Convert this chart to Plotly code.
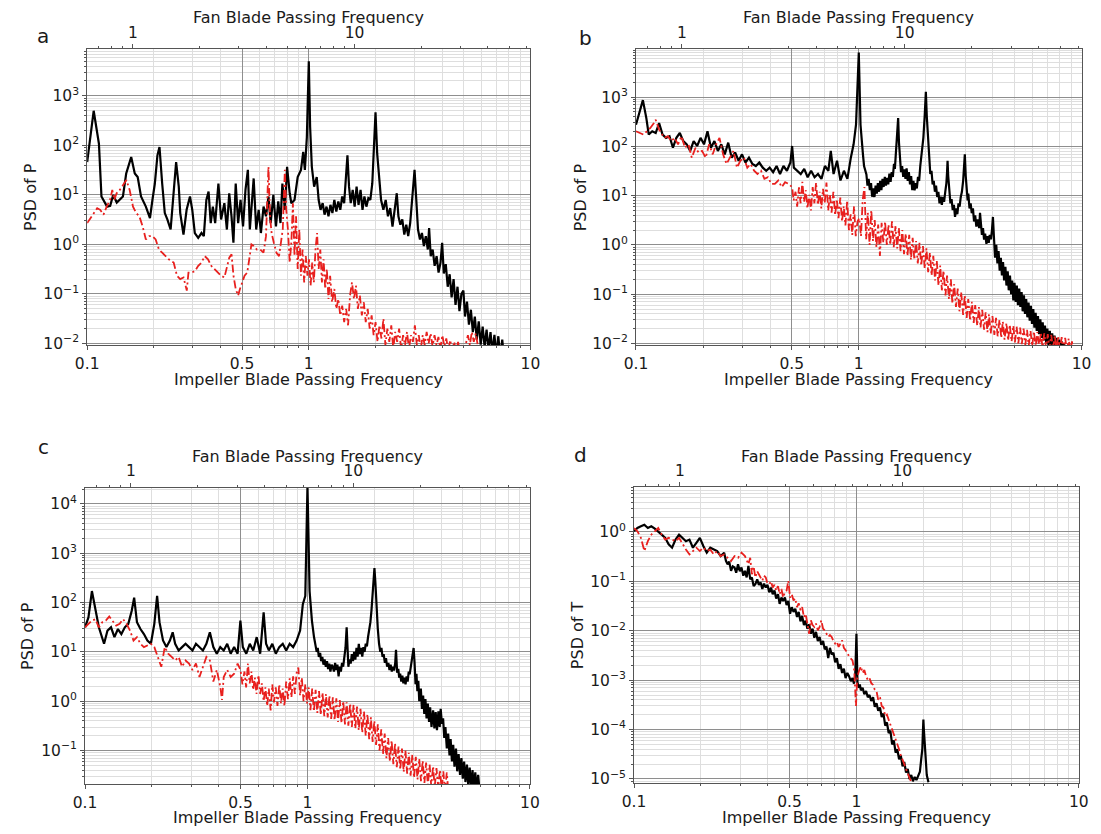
import math
import plotly.graph_objects as go

# ---------------- data (frequency in impeller BPF units, PSD) ----------------
A_BLACK = [(0.100,46),(0.107,500),(0.113,108),(0.116,9.3),(0.123,5.8),(0.127,6.0),(0.131,10),(0.136,7.0),(0.145,9.3),(0.150,27),(0.158,58),(0.164,27),(0.169,23),(0.175,9.3),(0.184,5.8),(0.192,3.4),(0.197,7.9),(0.202,17),(0.2075,63),(0.212,93),(0.218,17),(0.224,4.3),(0.230,3.2),(0.238,2.0),(0.244,7.9),(0.252,46),(0.259,14.7),(0.263,4.3),(0.272,1.58),(0.281,5.0),(0.291,9.3),(0.298,5.0),(0.306,1.7),(0.317,1.36),(0.328,1.7),(0.336,1.47),(0.345,7.9),(0.353,11.7),(0.361,2.7),(0.369,5.8),(0.378,2.7),(0.391,17),(0.402,3.2),(0.416,6.8),(0.427,2.0),(0.4375,10.8),(0.448,3.7),(0.457,1.08),(0.468,17),(0.480,2.7),(0.492,7.9),(0.505,2.3),(0.518,12.6),(0.531,32),(0.542,2.0),(0.555,7.9),(0.564,21.5),(0.579,2.0),(0.594,5.0),(0.608,1.7),(0.625,5.8),(0.641,3.7),(0.658,9.3),(0.673,2.7),(0.692,10),(0.711,2.3),(0.728,7.4),(0.745,2.7),(0.760,17),(0.780,5.0),(0.798,37),(0.820,10.8),(0.834,6.8),(0.862,7.9),(0.891,23),(0.922,32),(0.944,74),(0.960,32),(0.980,147),(1.0,5000),(1.014,233),(1.032,37),(1.057,14.7),(1.086,23),(1.108,7.9),(1.130,5.0),(1.155,6.8),(1.178,4.0),(1.202,5.8),(1.227,3.7),(1.252,6.3),(1.278,4.3),(1.304,7.9),(1.331,4.6),(1.359,7.4),(1.387,5.0),(1.415,9.3),(1.444,6.8),(1.469,17),(1.494,63),(1.519,14.7),(1.546,6.8),(1.578,12.6),(1.610,5.8),(1.643,14.7),(1.677,6.3),(1.712,12.6),(1.747,5.0),(1.782,9.3),(1.819,5.8),(1.857,8.6),(1.895,7.9),(1.934,17),(1.967,68),(2.0,464),(2.035,68),(2.069,23),(2.119,7.9),(2.170,5.0),(2.223,7.9),(2.276,3.7),(2.330,5.4),(2.386,2.3),(2.435,5.0),(2.494,10.8),(2.537,3.7),(2.589,2.5),(2.642,3.2),(2.697,1.58),(2.753,2.5),(2.809,1.47),(2.867,2.7),(2.925,6.8),(2.975,20),(3.0,32),(3.047,7.9),(3.110,2.0),(3.174,1.26),(3.239,1.7),(3.306,0.93),(3.373,1.47),(3.443,0.79),(3.490,2.15),(3.549,0.58),(3.622,0.79),(3.697,0.37),(3.773,0.58),(3.850,0.27),(3.929,0.43),(3.996,1.08),(4.065,0.26),(4.149,0.4),(4.235,0.14),(4.321,0.25),(4.410,0.085),(4.501,0.2),(4.593,0.06),(4.688,0.14),(4.784,0.045),(4.882,0.1),(4.983,0.117),(5.068,0.035),(5.172,0.07),(5.279,0.024),(5.387,0.048),(5.498,0.017),(5.612,0.035),(5.727,0.012),(5.845,0.028),(5.966,0.0095),(6.088,0.022),(6.213,0.0085),(6.341,0.019),(6.471,0.0075),(6.604,0.017),(6.740,0.0065),(6.879,0.015),(7.020,0.0058),(7.165,0.014),(7.311,0.0052),(7.462,0.012),(7.6,0.005)]

A_RED = [(0.1,2.7),(0.107,4.3),(0.111,5.4),(0.1145,5.0),(0.1185,4.0),(0.1225,5.8),(0.1268,7.9),(0.1298,12.6),(0.1325,7.9),(0.1358,10.8),(0.1403,12.6),(0.1452,15.8),(0.1503,20),(0.1555,12.6),(0.161,5.8),(0.1663,4.3),(0.172,3.7),(0.178,2.3),(0.184,1.26),(0.1906,1.47),(0.197,1.47),(0.2037,1.26),(0.2108,0.79),(0.218,0.68),(0.2256,0.58),(0.2334,0.50),(0.2456,0.43),(0.2543,0.233),(0.2629,0.20),(0.2721,0.215),(0.2815,0.117),(0.2864,0.27),(0.2962,0.27),(0.3066,0.29),(0.317,0.37),(0.328,0.43),(0.3393,0.58),(0.351,0.50),(0.363,0.37),(0.3757,0.32),(0.3886,0.27),(0.402,0.233),(0.416,0.215),(0.4303,0.37),(0.4377,0.54),(0.4482,0.63),(0.4573,0.233),(0.468,0.126),(0.4797,0.093),(0.489,0.126),(0.501,0.171),(0.513,0.233),(0.5276,0.27),(0.5418,0.58),(0.551,1.0),(0.5636,0.93),(0.583,0.79),(0.6036,0.79),(0.6246,0.68),(0.641,1.47),(0.6495,10.8),(0.6577,37),(0.668,3.7),(0.6796,1.7),(0.6954,1.08),(0.7145,0.68),(0.734,0.58),(0.751,1.08),(0.763,2.0),(0.7797,32),(0.791,5.0),(0.805,2.0),(0.82,0.43),(0.834,1.08),(0.848,6.8),(0.862,0.58),(0.876,3.7),(0.891,0.32),(0.906,2.0),(0.922,0.233),(0.937,0.79),(0.953,0.171),(0.969,0.58),(0.986,0.233),(1.002,0.50),(1.019,0.147),(1.036,0.43),(1.054,0.171),(1.072,0.79),(1.090,1.7),(1.108,0.32),(1.127,0.79),(1.146,0.171),(1.166,0.50),(1.186,0.126),(1.206,0.32),(1.227,0.079),(1.248,0.233),(1.274,0.068),(1.304,0.126),(1.331,0.050),(1.359,0.079),(1.387,0.037),(1.415,0.058),(1.444,0.027),(1.474,0.050),(1.504,0.0233),(1.535,0.093),(1.566,0.171),(1.599,0.079),(1.632,0.147),(1.665,0.050),(1.700,0.093),(1.735,0.037),(1.771,0.068),(1.807,0.027),(1.844,0.050),(1.882,0.020),(1.921,0.037),(1.961,0.0147),(2.001,0.027),(2.042,0.0108),(2.084,0.0233),(2.127,0.0126),(2.171,0.0316),(2.216,0.0093),(2.262,0.020),(2.308,0.0108),(2.356,0.0233),(2.405,0.0078),(2.454,0.0171),(2.505,0.0108),(2.556,0.020),(2.609,0.0078),(2.663,0.0147),(2.718,0.0093),(2.774,0.0171),(2.831,0.0078),(2.889,0.0147),(2.949,0.0108),(3.010,0.0233),(3.072,0.0093),(3.135,0.0147),(3.200,0.0078),(3.266,0.0147),(3.333,0.0093),(3.402,0.0171),(3.472,0.010),(3.544,0.016),(3.617,0.0087),(3.691,0.0147),(3.767,0.0093),(3.845,0.0135),(3.924,0.0078),(4.005,0.0147),(4.088,0.0087),(4.172,0.0126),(4.258,0.0072),(4.346,0.0117),(4.436,0.0068),(4.527,0.0108),(4.620,0.0068),(4.716,0.0108),(4.813,0.0063),(4.912,0.010),(5.013,0.0068),(5.117,0.0108),(5.222,0.0147),(5.330,0.0093),(5.440,0.0171),(5.552,0.0108),(5.666,0.016),(5.783,0.0093),(5.902,0.0068),(6.024,0.0043)]

B_BLACK = [(0.100,275),(0.1036,509),(0.1074,870),(0.1113,375),(0.1141,174),(0.1183,203),(0.1226,187),(0.1270,297),(0.1316,174),(0.1364,149),(0.1414,161),(0.1465,94),(0.1518,149),(0.1573,187),(0.1631,128),(0.1690,110),(0.1751,81),(0.1815,128),(0.1881,102),(0.1949,149),(0.2020,110),(0.2094,203),(0.2170,94),(0.2249,128),(0.2331,81),(0.2415,110),(0.2503,69),(0.2594,119),(0.2689,59),(0.2786,75),(0.2888,51),(0.2992,69),(0.3101,47),(0.3214,59),(0.3331,44),(0.3451,40),(0.3577,47),(0.3707,37),(0.3841,32),(0.3981,37),(0.4126,30),(0.4276,40),(0.4431,27.5),(0.4592,40),(0.4759,32),(0.4932,47),(0.5021,102),(0.5111,37),(0.5297,32),(0.5489,27.5),(0.5689,35),(0.5895,23.6),(0.6109,32),(0.6332,23.6),(0.6561,27.5),(0.6800,21.9),(0.7047,40),(0.7303,32),(0.7487,81),(0.7706,27.5),(0.7986,51),(0.8276,20.3),(0.8577,32),(0.8889,21.9),(0.9212,59),(0.9478,110),(0.9718,275),(1.0,8070),(1.018,275),(1.03,120),(1.044,69),(1.056,40),(1.07,30),(1.082,27),(1.094,16),(1.107,22),(1.121,13),(1.135,18),(1.148,9.5),(1.162,14),(1.176,9.4),(1.19,16),(1.204,11),(1.218,18),(1.233,12),(1.248,20),(1.263,13),(1.278,22),(1.293,15),(1.309,24),(1.324,16),(1.340,23),(1.356,17),(1.372,28),(1.389,19),(1.405,30),(1.422,24),(1.439,44),(1.452,35),(1.465,69),(1.48,100),(1.49,200),(1.502,375),(1.515,120),(1.529,59),(1.547,30),(1.565,40),(1.583,24),(1.601,34),(1.62,22),(1.639,36),(1.658,20),(1.678,30),(1.698,17),(1.718,25),(1.738,13),(1.759,20),(1.78,12.8),(1.801,18),(1.822,14),(1.844,24),(1.866,20),(1.888,40),(1.91,60),(1.93,110),(1.949,149),(1.975,400),(2.0,1280),(2.02,400),(2.043,149),(2.068,60),(2.094,27.5),(2.12,32),(2.145,17),(2.17,20),(2.196,12),(2.222,16),(2.249,9.4),(2.276,12),(2.303,7),(2.331,9.5),(2.359,6.5),(2.387,9.4),(2.415,7.5),(2.444,12),(2.473,18),(2.49,30),(2.503,51),(2.52,25),(2.548,12.8),(2.578,7),(2.609,8.5),(2.64,5.1),(2.672,6.5),(2.704,3.7),(2.736,5.5),(2.769,4.2),(2.802,7),(2.835,6),(2.869,9.4),(2.903,12),(2.94,20),(2.97,35),(2.992,69),(3.02,25),(3.05,15),(3.08,8),(3.101,11),(3.14,5.5),(3.177,7),(3.214,4.4),(3.253,5.5),(3.291,3.0),(3.33,4.0),(3.37,2.36),(3.41,3.3),(3.47,2.2),(3.50,4.5),(3.53,2.4),(3.57,1.6),(3.61,2.2),(3.65,1.28),(3.69,1.7),(3.74,1.05),(3.78,1.5),(3.83,1.1),(3.87,1.6),(3.92,1.3),(3.96,2.0),(4.0,3.7),(4.04,1.5),(4.09,0.55),(4.14,1.0),(4.19,0.42),(4.24,0.75),(4.29,0.3),(4.34,0.55),(4.39,0.24),(4.44,0.45),(4.49,0.19),(4.55,0.36),(4.6,0.15),(4.66,0.29),(4.71,0.12),(4.77,0.24),(4.83,0.1),(4.88,0.19),(4.94,0.075),(5.0,0.17),(5.06,0.07),(5.12,0.15),(5.18,0.06),(5.25,0.13),(5.31,0.055),(5.38,0.11),(5.44,0.045),(5.51,0.095),(5.57,0.04),(5.64,0.08),(5.71,0.034),(5.78,0.068),(5.85,0.029),(5.92,0.058),(5.99,0.025),(6.07,0.05),(6.14,0.021),(6.22,0.042),(6.29,0.018),(6.37,0.036),(6.45,0.0155),(6.53,0.031),(6.61,0.013),(6.69,0.027),(6.77,0.0115),(6.85,0.023),(6.94,0.01),(7.02,0.02),(7.11,0.0088),(7.2,0.018),(7.29,0.008),(7.38,0.016),(7.47,0.0072),(7.56,0.0145),(7.65,0.0066),(7.75,0.013),(7.84,0.006),(7.94,0.012),(8.04,0.0056),(8.14,0.011),(8.24,0.0052),(8.34,0.01),(8.44,0.005)]

B_RED = [(0.100,203),(0.1036,187),(0.108,174),(0.112,203),(0.116,236),(0.1204,297),(0.1226,347),(0.127,219),(0.134,149),(0.139,161),(0.144,128),(0.149,149),(0.1545,110),(0.160,161),(0.166,94),(0.172,110),(0.178,59),(0.185,94),(0.191,75),(0.198,81),(0.2055,59),(0.213,110),(0.221,69),(0.229,110),(0.237,149),(0.246,69),(0.255,44),(0.264,59),(0.274,81),(0.284,37),(0.294,51),(0.305,59),(0.316,37),(0.327,44),(0.339,32),(0.351,27.5),(0.364,32),(0.377,21.9),(0.391,23.6),(0.405,17.4),(0.420,17.4),(0.435,20.3),(0.451,14.9),(0.467,18.8),(0.484,17.4),(0.502,14.9),(0.51,8),(0.52,12.0),(0.529,6),(0.539,14.8),(0.548,7),(0.558,19),(0.568,7.5),(0.578,13),(0.588,5.5),(0.599,10.4),(0.61,5),(0.621,15),(0.632,7),(0.643,18.4),(0.655,6.5),(0.667,12.0),(0.679,5.5),(0.691,13.8),(0.703,7),(0.716,18.4),(0.729,5),(0.742,10.4),(0.755,4.5),(0.769,12.0),(0.783,4),(0.797,8.5),(0.811,3.5),(0.826,9.1),(0.841,3),(0.856,6.1),(0.871,2.5),(0.887,7.9),(0.903,2.0),(0.919,4.2),(0.935,1.6),(0.952,6.1),(0.969,1.5),(0.987,3.0),(1.005,3.5),(1.023,1.5),(1.041,8.1),(1.06,14.9),(1.079,1.3),(1.098,4.5),(1.118,1.0),(1.138,5.1),(1.158,1.2),(1.179,3.2),(1.2,0.9),(1.222,2.6),(1.244,0.6),(1.266,2.8),(1.289,1.1),(1.312,3.0),(1.336,1.0),(1.36,2.6),(1.384,1.0),(1.409,3.0),(1.435,0.9),(1.461,2.4),(1.487,0.85),(1.513,2.2),(1.54,0.75),(1.568,2.0),(1.596,0.65),(1.625,1.7),(1.654,0.6),(1.684,1.6),(1.714,0.5),(1.745,1.4),(1.776,0.5),(1.808,1.2),(1.84,0.42),(1.873,1.1),(1.907,0.38),(1.941,0.95),(1.976,0.33),(2.012,0.85),(2.048,0.28),(2.085,0.7),(2.122,0.24),(2.16,0.6),(2.199,0.19),(2.239,0.48),(2.279,0.15),(2.32,0.38),(2.36,0.12),(2.4,0.3),(2.45,0.095),(2.49,0.24),(2.54,0.08),(2.59,0.2),(2.63,0.065),(2.68,0.16),(2.73,0.055),(2.78,0.13),(2.83,0.045),(2.88,0.11),(2.94,0.038),(2.99,0.095),(3.05,0.033),(3.1,0.08),(3.16,0.029),(3.22,0.07),(3.28,0.026),(3.33,0.06),(3.4,0.023),(3.46,0.055),(3.52,0.021),(3.58,0.048),(3.65,0.019),(3.71,0.043),(3.78,0.017),(3.84,0.039),(3.91,0.016),(3.98,0.036),(4.06,0.015),(4.13,0.033),(4.2,0.014),(4.28,0.03),(4.36,0.013),(4.43,0.028),(4.51,0.012),(4.6,0.026),(4.68,0.0115),(4.76,0.024),(4.85,0.011),(4.94,0.023),(5.02,0.0105),(5.11,0.022),(5.2,0.01),(5.3,0.021),(5.39,0.0097),(5.49,0.02),(5.59,0.0094),(5.69,0.019),(5.79,0.009),(5.9,0.018),(6.0,0.0088),(6.11,0.0175),(6.22,0.0086),(6.33,0.017),(6.45,0.0084),(6.56,0.0165),(6.68,0.0082),(6.8,0.016),(6.93,0.008),(7.05,0.0155),(7.18,0.0078),(7.31,0.015),(7.44,0.0076),(7.58,0.0145),(7.71,0.0074),(7.85,0.014),(8.0,0.0072),(8.14,0.0135),(8.29,0.007),(8.44,0.013),(8.6,0.0068),(8.75,0.0125),(8.9,0.0066),(9.05,0.011),(9.2,0.0065)]

C_BLACK = [(0.1,31.5),(0.1036,50),(0.1074,171),(0.1113,68),(0.1154,31.5),(0.1218,14.6),(0.1262,27),(0.1309,31.5),(0.1356,19.9),(0.1406,29),(0.1457,23),(0.151,31.5),(0.1565,37),(0.1622,68),(0.1663,126),(0.1712,40),(0.1775,29),(0.184,23),(0.1907,17),(0.1977,14.6),(0.2049,37),(0.2109,136),(0.2162,40),(0.2242,17),(0.2323,12.5),(0.2408,17),(0.2478,25),(0.2542,14.6),(0.2635,10.7),(0.2731,12.5),(0.2831,14.6),(0.2935,12.5),(0.3042,10.7),(0.3153,14.6),(0.3269,12.5),(0.3388,10.7),(0.3512,14.6),(0.3641,25),(0.3774,12.5),(0.3912,9.2),(0.4055,12.5),(0.4203,10.7),(0.4357,14.6),(0.4516,9.2),(0.4681,12.5),(0.4853,9.2),(0.4994,43),(0.5121,12.5),(0.5309,9.2),(0.5503,14.6),(0.5704,10.7),(0.5913,19.9),(0.6129,9.2),(0.6353,63),(0.6515,14.6),(0.6705,10.7),(0.695,14.6),(0.7204,9.2),(0.7468,12.5),(0.7741,14.6),(0.8024,10.7),(0.8317,14.6),(0.8622,12.5),(0.8937,17),(0.9264,27),(0.9532,93),(0.9776,136),(1.0,23700),(1.022,171),(1.047,43),(1.07,20),(1.085,14.6),(1.1,10),(1.112,12),(1.125,7.9),(1.14,9.5),(1.152,6.5),(1.166,7.9),(1.18,5.5),(1.194,7),(1.209,5.0),(1.224,6.5),(1.238,4.5),(1.253,5.8),(1.268,4.0),(1.284,5.5),(1.299,5.0),(1.315,4.0),(1.331,6),(1.347,4.3),(1.363,5.5),(1.38,3.2),(1.396,5.0),(1.413,4.0),(1.43,6),(1.447,5.0),(1.465,8),(1.482,12),(1.5,31.5),(1.515,8),(1.527,5.0),(1.545,7),(1.564,5.8),(1.583,9),(1.602,6.5),(1.621,10),(1.641,7),(1.661,12),(1.681,8),(1.701,14.6),(1.722,9),(1.742,12),(1.763,8),(1.784,12.5),(1.806,10),(1.828,14.6),(1.85,13),(1.872,20),(1.895,27),(1.918,40),(1.94,70),(1.964,150),(1.98,300),(2.0,500),(2.02,250),(2.044,68),(2.07,30),(2.098,14.6),(2.125,10),(2.15,12),(2.175,7.9),(2.2,9),(2.228,6),(2.254,7.5),(2.28,5.0),(2.31,6),(2.337,4.3),(2.365,5.5),(2.393,4.0),(2.422,5.0),(2.45,4.2),(2.48,6),(2.5,11),(2.53,3.8),(2.56,4.5),(2.584,3.0),(2.61,3.6),(2.64,2.5),(2.67,3.3),(2.698,2.3),(2.73,3.0),(2.76,2.2),(2.79,3.2),(2.82,2.5),(2.852,4),(2.88,3.5),(2.91,5),(2.94,7),(2.97,10),(3.0,12),(3.03,6),(3.06,2.2),(3.09,3.6),(3.119,1.6),(3.15,2.6),(3.18,1.0),(3.233,1.8),(3.27,0.7),(3.31,1.3),(3.35,0.55),(3.39,1.1),(3.43,0.45),(3.474,0.9),(3.52,0.38),(3.56,0.75),(3.61,0.3),(3.671,0.65),(3.72,0.28),(3.77,0.6),(3.82,0.26),(3.878,0.62),(3.93,0.3),(3.97,0.7),(4.02,0.35),(4.07,0.45),(4.12,0.18),(4.17,0.3),(4.23,0.11),(4.29,0.22),(4.35,0.08),(4.4,0.17),(4.46,0.06),(4.52,0.13),(4.58,0.047),(4.65,0.11),(4.71,0.038),(4.78,0.085),(4.85,0.032),(4.92,0.07),(4.99,0.027),(5.06,0.06),(5.13,0.023),(5.21,0.052),(5.28,0.02),(5.36,0.045),(5.44,0.017),(5.52,0.04),(5.6,0.016),(5.68,0.036),(5.76,0.015),(5.85,0.032),(5.95,0.014)]

C_RED = [(0.1,31.5),(0.1036,37),(0.1074,43),(0.1113,46),(0.1154,31.5),(0.1196,40),(0.124,43),(0.1285,52),(0.1332,43),(0.1381,34),(0.1431,37),(0.1483,46),(0.1537,37),(0.1594,27),(0.1652,17),(0.1712,19.9),(0.1775,14.6),(0.184,12.5),(0.1907,13.5),(0.1977,14.6),(0.2049,12.5),(0.2124,7.9),(0.2202,5.0),(0.2283,12.5),(0.2366,9.2),(0.2452,7.9),(0.2542,6.7),(0.2635,7.9),(0.2731,5.0),(0.2831,6.7),(0.2935,5.8),(0.3042,4.3),(0.3153,5.8),(0.3269,3.1),(0.3388,5.0),(0.3512,7.9),(0.3641,6.7),(0.3774,2.5),(0.3912,4.3),(0.4055,1.97),(0.4128,1.06),(0.4203,3.1),(0.4357,4.3),(0.4516,3.1),(0.4681,3.6),(0.4853,5.8),(0.5,4.3),(0.51,2.2),(0.521,4.0),(0.53,1.9),(0.54,5.8),(0.55,2.3),(0.56,4.0),(0.57,1.7),(0.58,3.0),(0.59,1.4),(0.602,3.4),(0.613,1.4),(0.624,2.3),(0.635,1.0),(0.647,1.9),(0.659,0.8),(0.67,1.8),(0.683,0.65),(0.695,2.2),(0.707,0.95),(0.72,1.9),(0.733,0.8),(0.747,2.2),(0.76,0.9),(0.774,1.8),(0.788,0.8),(0.802,2.5),(0.817,1.1),(0.832,2.9),(0.847,1.2),(0.862,3.2),(0.878,1.4),(0.894,3.8),(0.91,4.8),(0.926,1.3),(0.943,3.0),(0.96,1.0),(0.978,2.2),(0.995,0.9),(1.013,1.9),(1.031,0.66),(1.05,1.8),(1.069,0.62),(1.088,1.7),(1.107,0.58),(1.127,1.6),(1.148,0.53),(1.168,1.5),(1.19,0.5),(1.211,1.4),(1.233,0.47),(1.255,1.3),(1.278,0.44),(1.3,1.2),(1.324,0.41),(1.348,1.15),(1.372,0.38),(1.397,1.05),(1.422,0.36),(1.448,1.0),(1.474,0.34),(1.5,0.95),(1.527,0.32),(1.555,0.9),(1.583,0.3),(1.611,0.85),(1.641,0.28),(1.67,0.78),(1.7,0.26),(1.731,0.7),(1.763,0.23),(1.795,0.62),(1.827,0.2),(1.86,0.55),(1.894,0.17),(1.928,0.47),(1.963,0.15),(1.998,0.4),(2.034,0.13),(2.071,0.34),(2.108,0.1),(2.146,0.27),(2.185,0.085),(2.224,0.22),(2.264,0.07),(2.305,0.18),(2.347,0.06),(2.389,0.16),(2.432,0.053),(2.476,0.14),(2.52,0.046),(2.566,0.12),(2.612,0.041),(2.659,0.11),(2.707,0.037),(2.756,0.1),(2.806,0.034),(2.856,0.09),(2.908,0.031),(2.96,0.082),(3.013,0.028),(3.068,0.075),(3.123,0.026),(3.18,0.068),(3.237,0.024),(3.295,0.062),(3.355,0.022),(3.415,0.057),(3.477,0.02),(3.54,0.052),(3.6,0.019),(3.67,0.048),(3.73,0.018),(3.8,0.044),(3.87,0.017),(3.94,0.041),(4.01,0.016),(4.08,0.038),(4.15,0.015),(4.23,0.036),(4.3,0.014)]

D_BLACK = [(0.1,1.03),(0.1036,1.2),(0.1074,1.3),(0.1113,1.4),(0.1154,1.2),(0.1196,1.3),(0.124,1.17),(0.1285,1.03),(0.1332,0.88),(0.1381,0.76),(0.1431,0.56),(0.1483,0.48),(0.1537,0.70),(0.1594,0.88),(0.1652,0.76),(0.1712,0.65),(0.1775,0.70),(0.184,0.48),(0.1907,0.60),(0.1977,0.76),(0.2049,0.52),(0.2124,0.38),(0.2202,0.48),(0.2283,0.44),(0.2366,0.41),(0.2452,0.325),(0.2542,0.38),(0.259,0.26),(0.2635,0.221),(0.268,0.25),(0.2731,0.163),(0.278,0.2),(0.2831,0.19),(0.288,0.15),(0.2935,0.221),(0.299,0.16),(0.3042,0.19),(0.31,0.13),(0.3153,0.163),(0.321,0.12),(0.3269,0.205),(0.333,0.11),(0.3388,0.12),(0.345,0.08),(0.3512,0.088),(0.358,0.11),(0.3641,0.085),(0.371,0.095),(0.3774,0.07),(0.384,0.09),(0.3912,0.075),(0.398,0.085),(0.4055,0.06),(0.413,0.075),(0.4203,0.055),(0.428,0.065),(0.4357,0.045),(0.444,0.055),(0.4516,0.035),(0.46,0.047),(0.4681,0.04),(0.477,0.047),(0.4853,0.033),(0.494,0.04),(0.503,0.022),(0.512,0.03),(0.5214,0.024),(0.531,0.028),(0.5405,0.019),(0.55,0.024),(0.5603,0.0155),(0.57,0.02),(0.5808,0.013),(0.591,0.016),(0.602,0.011),(0.613,0.0135),(0.624,0.0087),(0.635,0.011),(0.6468,0.0072),(0.658,0.0095),(0.6705,0.0062),(0.683,0.0075),(0.695,0.0052),(0.708,0.0062),(0.7204,0.0042),(0.733,0.0048),(0.7468,0.0028),(0.76,0.0045),(0.7741,0.0033),(0.788,0.0036),(0.8024,0.0023),(0.817,0.0028),(0.8317,0.0017),(0.847,0.0021),(0.8622,0.0014),(0.878,0.0017),(0.8937,0.0011),(0.91,0.0014),(0.9264,0.0012),(0.943,0.00095),(0.9603,0.0011),(0.975,0.00085),(0.988,0.0013),(1.0,0.0087),(1.011,0.0009),(1.025,0.0007),(1.036,0.00082),(1.047,0.00062),(1.066,0.0007),(1.085,0.00052),(1.105,0.0006),(1.125,0.00045),(1.145,0.0005),(1.166,0.00038),(1.188,0.00045),(1.209,0.00029),(1.231,0.00034),(1.253,0.00024),(1.276,0.00028),(1.299,0.00018),(1.323,0.00021),(1.347,0.00012),(1.371,0.00014),(1.396,8.5e-5),(1.421,9.5e-5),(1.447,5e-5),(1.473,6e-5),(1.5,3.4e-5),(1.527,4e-5),(1.555,2.5e-5),(1.583,3e-5),(1.612,1.8e-5),(1.641,2.2e-5),(1.671,1.35e-5),(1.701,1.6e-5),(1.732,1.0e-5),(1.764,1.2e-5),(1.795,9e-6),(1.828,1.1e-5),(1.861,9.5e-6),(1.895,1.2e-5),(1.929,1.4e-5),(1.955,2.5e-5),(1.978,4e-5),(1.992,1e-4),(2.0,1.6e-4),(2.01,1e-4),(2.035,4e-5),(2.05,2e-5),(2.071,1.2e-5),(2.108,8.6e-6)]

D_RED = [(0.1,1.2),(0.1036,1.03),(0.1074,0.76),(0.1113,0.41),(0.1154,0.65),(0.1196,0.88),(0.124,1.03),(0.1285,1.2),(0.1332,0.88),(0.1381,0.70),(0.1431,0.76),(0.1483,0.70),(0.1537,0.65),(0.1594,0.76),(0.1652,0.56),(0.1712,0.44),(0.1775,0.35),(0.184,0.41),(0.1907,0.48),(0.1977,0.41),(0.2049,0.48),(0.2124,0.41),(0.2202,0.44),(0.2283,0.35),(0.2366,0.41),(0.2452,0.325),(0.2542,0.35),(0.2635,0.30),(0.2731,0.258),(0.2831,0.325),(0.2935,0.30),(0.3042,0.38),(0.3153,0.325),(0.3269,0.221),(0.333,0.3),(0.3388,0.139),(0.345,0.2),(0.3512,0.12),(0.358,0.16),(0.3641,0.139),(0.371,0.12),(0.3774,0.103),(0.384,0.13),(0.3912,0.12),(0.398,0.09),(0.4055,0.088),(0.413,0.1),(0.4203,0.075),(0.428,0.085),(0.4357,0.065),(0.444,0.08),(0.4516,0.055),(0.46,0.07),(0.4681,0.047),(0.477,0.06),(0.4853,0.065),(0.4941,0.103),(0.503,0.047),(0.512,0.055),(0.5214,0.041),(0.531,0.045),(0.5405,0.03),(0.55,0.036),(0.5603,0.026),(0.57,0.03),(0.5808,0.0188),(0.591,0.022),(0.602,0.0139),(0.613,0.0087),(0.624,0.0162),(0.635,0.013),(0.6468,0.0119),(0.658,0.014),(0.6705,0.0102),(0.683,0.012),(0.695,0.0162),(0.708,0.011),(0.7204,0.0102),(0.733,0.0085),(0.7468,0.0075),(0.76,0.0082),(0.7741,0.0075),(0.788,0.0062),(0.8024,0.0055),(0.817,0.006),(0.8317,0.0047),(0.847,0.0055),(0.8622,0.0064),(0.878,0.0045),(0.8937,0.004),(0.91,0.0036),(0.9264,0.003),(0.943,0.0027),(0.9603,0.0025),(0.9776,0.0016),(0.9954,0.0003),(1.005,0.0008),(1.011,0.0012),(1.025,0.0015),(1.036,0.0018),(1.047,0.0019),(1.066,0.0014),(1.085,0.0016),(1.105,0.0012),(1.125,0.00101),(1.145,0.0011),(1.166,0.00087),(1.188,0.0008),(1.209,0.00064),(1.231,0.0006),(1.253,0.0004),(1.276,0.00045),(1.299,0.0003),(1.323,0.00028),(1.347,0.000186),(1.371,0.0002),(1.396,0.00016),(1.421,0.00012),(1.447,0.0001),(1.473,8e-5),(1.5,6.3e-5),(1.527,5e-5),(1.555,4e-5),(1.583,3e-5),(1.612,2.5e-5),(1.641,2e-5),(1.671,1.59e-5),(1.701,1.3e-5),(1.732,1.0e-5),(1.764,8.6e-6)]

PANEL_LETTERS = ["a", "b", "c", "d"]
Y_TITLES = ["PSD of P", "PSD of P", "PSD of P", "PSD of T"]
TOP_TITLE = "Fan Blade Passing Frequency"
BOTTOM_TITLE = "Impeller Blade Passing Frequency"
BOTTOM_TICKS = [0.1, 0.5, 1, 10]
BOTTOM_TICKTEXT = ["0.1", "0.5", "1", "10"]
TOP_TICKS = [1, 10]
TOP_TICKTEXT = ["1", "10"]
FAN_PER_IMPELLER = 6.22   # fan BPF / impeller BPF (top-axis scale factor)

# ---------------- layout geometry (pixels) ----------------
W, H = 1101, 834
# (left, right, top, bottom, ymin_log, ymax_log)
BOXES = [
    (76.7, 529.0, 49.3, 348.3, -2.03, 3.95),
    (636.7, 1091.4, 49.3, 348.3, -2.03, 3.98),
    (74.5, 528.5, 492.3, 791.7, -1.68, 4.33),
    (634.7, 1088.6, 491.7, 791.0, -5.09, 0.91),
]
LETTER_POS = [(31.7, 36.5), (585, 38.5), (31.7, 451.5), (580, 459)]
YTITLE_X = [19.5, 580, 16.5, 576.5]
TOPTITLE_Y = [18, 18, 460.5, 460.5]
BOTTITLE_Y = [383, 383, 825, 825]

FONT = "DejaVu Sans"
MAJOR_GRID = "#8e8e8e"
MINOR_GRID = "#dedede"
AX_LINE = "#555555"
RED = "#e8201e"
TXT = "#1a1a1a"

def sup(e):
    s = str(e).replace("-", "\u2212")
    return "10<sup>%s</sup>" % s

fig = go.Figure()
series = [(A_BLACK, A_RED), (B_BLACK, B_RED), (C_BLACK, C_RED), (D_BLACK, D_RED)]

annotations = []
for i, (blk, red) in enumerate(series):
    n = i + 1
    xa = "x" if n == 1 else "x%d" % n
    xt = "x%d" % (n + 4)
    ya = "y" if n == 1 else "y%d" % n
    L, R, T, B, y0, y1 = BOXES[i]
    xdom = [L / W, R / W]
    ydom = [1 - B / H, 1 - T / H]

    bf, bp = zip(*blk)
    rf, rp = zip(*red)
    # invisible copy on the fan-BPF axis so that the top axis is drawn
    fig.add_trace(go.Scatter(x=[f * FAN_PER_IMPELLER for f in bf], y=bp, xaxis=xt, yaxis=ya,
                             mode="lines", line=dict(color="rgba(0,0,0,0)", width=1),
                             opacity=0, showlegend=False, hoverinfo="skip"))
    fig.add_trace(go.Scatter(x=bf, y=bp, xaxis=xa, yaxis=ya, mode="lines",
                             line=dict(color="black", width=2.2), showlegend=False,
                             hoverinfo="skip"))
    fig.add_trace(go.Scatter(x=rf, y=rp, xaxis=xa, yaxis=ya, mode="lines",
                             line=dict(color=RED, width=1.8, dash="8px,3px,2px,3px"),
                             showlegend=False, hoverinfo="skip"))

    # bottom x axis
    xminor = [k * 0.1 for k in range(2, 10) if k != 5] + list(range(2, 10))
    fig.layout["xaxis" if n == 1 else "xaxis%d" % n] = dict(
        type="log", domain=xdom, anchor=ya, range=[-1, 1],
        tickmode="array", tickvals=BOTTOM_TICKS, ticktext=BOTTOM_TICKTEXT,
        ticks="outside", ticklen=4, tickwidth=1, tickcolor=AX_LINE,
        showgrid=True, gridcolor=MAJOR_GRID, gridwidth=1,
        minor=dict(tickmode="array", tickvals=xminor, ticks="outside", ticklen=2,
                   tickcolor=AX_LINE, showgrid=True, gridcolor=MINOR_GRID, gridwidth=1),
        showline=True, linecolor=AX_LINE, linewidth=1, mirror=True,
        tickfont=dict(family=FONT, size=15.5, color=TXT),
        zeroline=False, fixedrange=True)

    # top (fan BPF) axis
    tmin = 0.1 * FAN_PER_IMPELLER
    tmax = 10 * FAN_PER_IMPELLER
    tminor = [v for v in ([k * 0.1 for k in range(6, 10)] + list(range(2, 10)) + [k * 10 for k in range(2, 10)])
              if tmin < v < tmax]
    fig.layout["xaxis%d" % (n + 4)] = dict(
        type="log", domain=xdom, anchor=ya, overlaying=xa, side="top",
        range=[math.log10(tmin), math.log10(tmax)],
        tickmode="array", tickvals=TOP_TICKS, ticktext=TOP_TICKTEXT,
        ticks="outside", ticklen=4, tickwidth=1, tickcolor=AX_LINE,
        minor=dict(tickmode="array", tickvals=tminor, ticks="outside", ticklen=2,
                   tickcolor=AX_LINE, showgrid=False),
        showgrid=False, showline=False, zeroline=False,
        tickfont=dict(family=FONT, size=15.5, color=TXT), fixedrange=True)

    # y axis
    e_lo, e_hi = math.ceil(y0), math.floor(y1)
    ymaj = [10.0 ** e for e in range(e_lo, e_hi + 1)]
    ytxt = [sup(e) for e in range(e_lo, e_hi + 1)]
    ymin = [k * 10.0 ** e for e in range(math.floor(y0), math.ceil(y1) + 1) for k in range(2, 10)
            if y0 < math.log10(k * 10.0 ** e) < y1]
    fig.layout["yaxis" if n == 1 else "yaxis%d" % n] = dict(
        type="log", domain=ydom, anchor=xa, range=[y0, y1],
        tickmode="array", tickvals=ymaj, ticktext=ytxt,
        ticks="outside", ticklen=4, tickwidth=1, tickcolor=AX_LINE,
        showgrid=True, gridcolor=MAJOR_GRID, gridwidth=1,
        minor=dict(tickmode="array", tickvals=ymin, ticks="outside", ticklen=2,
                   tickcolor=AX_LINE, showgrid=True, gridcolor=MINOR_GRID, gridwidth=1),
        showline=True, linecolor=AX_LINE, linewidth=1, mirror=True,
        tickfont=dict(family=FONT, size=15.5, color=TXT),
        zeroline=False, fixedrange=True)

    cx = (L + R) / 2
    annotations += [
        dict(text=TOP_TITLE, x=cx / W, y=1 - TOPTITLE_Y[i] / H, xref="paper", yref="paper",
             xanchor="center", yanchor="middle", showarrow=False,
             font=dict(family=FONT, size=16, color=TXT)),
        dict(text=BOTTOM_TITLE, x=cx / W, y=1 - BOTTITLE_Y[i] / H, xref="paper", yref="paper",
             xanchor="center", yanchor="middle", showarrow=False,
             font=dict(family=FONT, size=16, color=TXT)),
        dict(text=Y_TITLES[i], x=YTITLE_X[i] / W, y=1 - ((T + B) / 2) / H, xref="paper", yref="paper",
             xanchor="center", yanchor="middle", showarrow=False, textangle=-90,
             font=dict(family=FONT, size=16, color=TXT)),
        dict(text=PANEL_LETTERS[i], x=LETTER_POS[i][0] / W, y=1 - LETTER_POS[i][1] / H,
             xref="paper", yref="paper", xanchor="center", yanchor="middle", showarrow=False,
             font=dict(family=FONT, size=20, color=TXT)),
    ]

fig.update_layout(width=W, height=H, margin=dict(l=0, r=0, t=0, b=0),
                  paper_bgcolor="white", plot_bgcolor="white",
                  showlegend=False, annotations=annotations,
                  font=dict(family=FONT, size=15.5, color=TXT))

fig.write_html("out.html", include_plotlyjs=True, full_html=True,
               config=dict(displayModeBar=False, staticPlot=True))
